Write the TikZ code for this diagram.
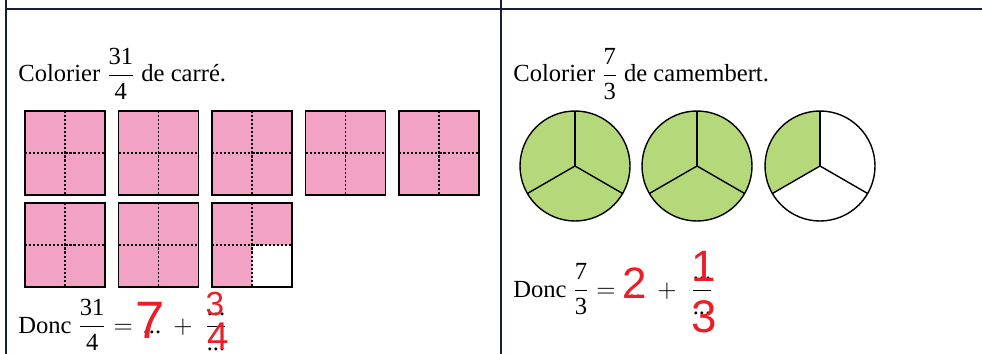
\documentclass[tikz,border=0pt]{standalone}
\usepackage{amsmath}
\usepackage{fontspec}
\setmainfont{Liberation Serif}
\newfontfamily\handfont{Liberation Sans}
\definecolor{crayonpink}{RGB}{242,162,196}
\definecolor{crayongreen}{RGB}{180,216,122}
\definecolor{inkred}{RGB}{235,30,40}
\definecolor{frameink}{RGB}{25,30,60}
\tikzset{
  carre/.style={line width=1pt},
  pointille/.style={line width=0.9pt,dash pattern=on 1.2pt off 1.1pt},
  part/.style={line width=0.8pt},
  rouge/.style={text=inkred,font=\handfont\fontsize{#1}{#1}\selectfont,inner sep=0pt},
}
\begin{document}
\begin{tikzpicture}[x=0.02cm,y=-0.02cm,font=\fontsize{14}{17}\selectfont]
\useasboundingbox (0,0) rectangle (982,354);
% cadre du tableau
\draw[frameink,line width=1.1pt] (6,9)--(982,9) (6,0)--(6,354) (501,0)--(501,354);
% les carres
\foreach \i in {0,...,4}{\fill[crayonpink] (25+93.5*\i,111) rectangle +(80,84);}
\foreach \i in {0,1}{\fill[crayonpink] (25+93.5*\i,203) rectangle +(80,84);}
\fill[crayonpink] (212,203) rectangle +(80,42) (212,245) rectangle +(40,42);
\foreach \i in {0,...,4}{\draw[pointille] (65+93.5*\i,111)--+(0,84) (25+93.5*\i,153)--+(80,0); \draw[carre] (25+93.5*\i,111) rectangle +(80,84);}
\foreach \i in {0,1,2}{\draw[pointille] (65+93.5*\i,203)--+(0,84) (25+93.5*\i,245)--+(80,0); \draw[carre] (25+93.5*\i,203) rectangle +(80,84);}
% les camemberts
\foreach \c in {575,697}{\fill[crayongreen] (\c,166) circle[radius=55];}
\fill[crayongreen] (820,166) -- +(150:55) arc[start angle=150,end angle=270,radius=55] -- cycle;
\foreach \c in {575,697,820}{\draw[part] (\c,166) circle[radius=55]; \foreach \a in {270,150,30}{\draw[part] (\c,166) -- +(\a:55);}}
% consignes
\node[anchor=base west,inner sep=0pt] (titreG) at (18,82) {Colorier $\dfrac{\text{31}}{\text{4}}$ de carré.};
\node[anchor=base west,inner sep=0pt] (titreD) at (513,82) {Colorier $\dfrac{\text{7}}{\text{3}}$ de camembert.};
% reponses a gauche
\node[anchor=base west,inner sep=0pt] (doncG) at (18,333) {Donc $\dfrac{\text{31}}{\text{4}}=$};
\node[anchor=base,inner sep=0pt] (pointsG) at (152,333) {...};
\node[anchor=base,inner sep=0pt] (plusG) at (183,333) {$+$};
\node[anchor=base,inner sep=0pt] (fracG) at (216,333) {$\dfrac{\text{...}}{\text{...}}$};
\node[rouge=30] (r7) at (150,320) {7};
\node[rouge=19] (r3) at (215,304) {3};
\node[rouge=22] (r4) at (218,336) {4};
% reponses a droite
\node[anchor=base west,inner sep=0pt] (doncD) at (513,297) {Donc $\dfrac{\text{7}}{\text{3}}=$};
\node[anchor=base,inner sep=0pt] (pointsD) at (632,297) {...};
\node[anchor=base,inner sep=0pt] (plusD) at (667,297) {$+$};
\node[anchor=base,inner sep=0pt] (fracD) at (702,297) {$\dfrac{\text{...}}{\text{...}}$};
\node[rouge=25] (r2) at (635,283) {2};
\node[rouge=25] (r1) at (704,266) {1};
\node[rouge=26] (r3b) at (704,317) {3};
\end{tikzpicture}
\end{document}
